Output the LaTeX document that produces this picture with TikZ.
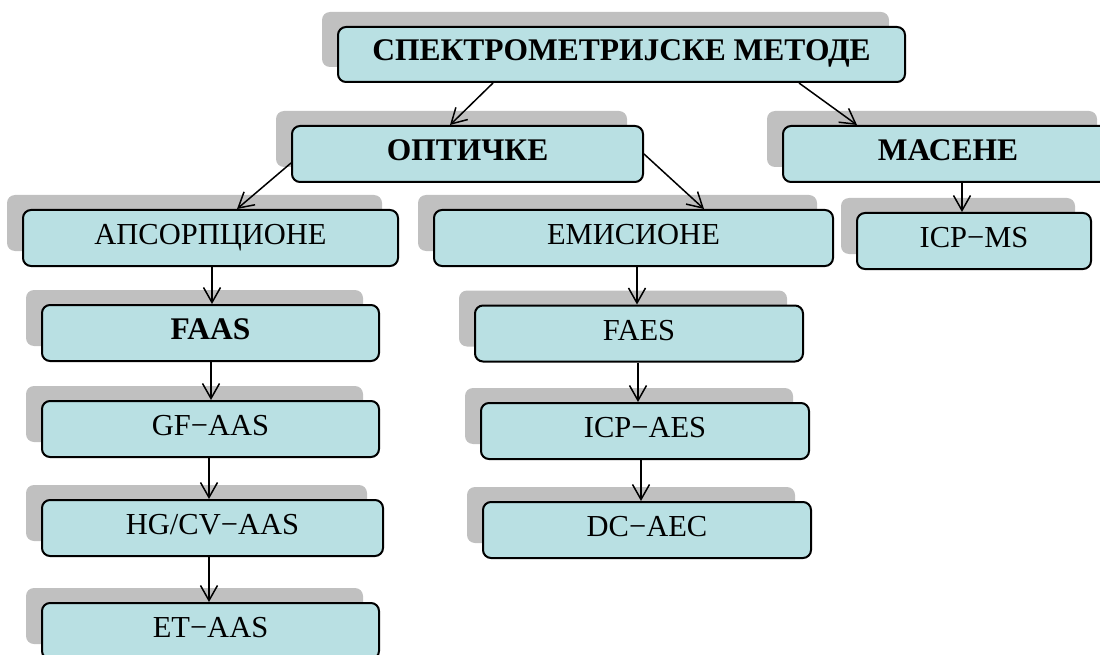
\documentclass[tikz,border=0pt]{standalone}
\usepackage{fontspec}
\setmainfont{Liberation Serif}
\usetikzlibrary{arrows.meta,shadows}
\definecolor{boxfill}{HTML}{B9E0E3}
\definecolor{shadowgray}{HTML}{C0C0C0}
\newcommand{\headtext}[1]{{\fontsize{31.5}{36}\selectfont\bfseries #1}}
\tikzset{
  methodbox/.style={
    draw=black, line width=2pt, rounded corners=8pt, fill=boxfill,
    minimum height=56pt, inner sep=0pt,
    font=\fontsize{30.5}{36}\selectfont, text height=20pt, text depth=7pt,
    drop shadow={shadow xshift=-16pt, shadow yshift=15pt, fill=shadowgray, opacity=1}
  },
  link/.style={line width=1.5pt, -{Straight Barb[length=15pt,width=17pt,line width=1.5pt]}}
}
\begin{document}
\begin{tikzpicture}[x=1pt,y=-1pt]
  \useasboundingbox (0,0) rectangle (1100,655);
  \begin{scope}
  \clip (0,0) rectangle (1100,655);
  % top level
  \node[methodbox, minimum width=567pt, minimum height=55pt] (top) at (621.5,54.5) {\headtext{СПЕКТРОМЕТРИЈСКЕ МЕТОДЕ}};
  % second level
  \node[methodbox, minimum width=351pt] (opt) at (467.5,154) {\headtext{ОПТИЧКЕ}};
  \node[methodbox, minimum width=330pt] (mas) at (948,154) {\headtext{МАСЕНЕ}};
  % third level
  \node[methodbox, minimum width=375pt] (aps) at (210.5,238) {АПСОРПЦИОНЕ};
  \node[methodbox, minimum width=399pt] (emi) at (633.5,238) {ЕМИСИОНЕ};
  \node[methodbox, minimum width=234pt] (icpms) at (974,241) {ICP−MS};
  % absorption techniques
  \node[methodbox, minimum width=337pt] (faas) at (210.5,333) {\headtext{FAAS}};
  \node[methodbox, minimum width=337pt] (gf) at (210.5,429) {GF−AAS};
  \node[methodbox, minimum width=341pt] (hg) at (212.5,528) {HG/CV−AAS};
  \node[methodbox, minimum width=337pt] (et) at (210.5,631) {ET−AAS};
  % emission techniques
  \node[methodbox, minimum width=328pt] (faes) at (639,333.5) {FAES};
  \node[methodbox, minimum width=328pt] (icpaes) at (645,431) {ICP−AES};
  \node[methodbox, minimum width=328pt] (dcaec) at (647,530) {DC−AEC};
  % connectors
  \draw[link] ([xshift=-128.5pt]top.south) -- ([xshift=-17.5pt]opt.north);
  \draw[link] ([xshift=177.5pt]top.south) -- ([xshift=-91pt]mas.north);
  \draw[link] ([yshift=-9pt]opt.west) -- ([xshift=26.5pt]aps.north);
  \draw[link] (opt.east) -- ([xshift=70.5pt]emi.north);
  \draw[link] ([xshift=14pt]mas.south) -- ([xshift=14pt]mas.south |- icpms.north);
  \draw[link] ([xshift=1.5pt]aps.south) -- ([xshift=1.5pt]aps.south |- faas.north);
  \draw[link] ([xshift=0.5pt]faas.south) -- ([xshift=0.5pt]faas.south |- gf.north);
  \draw[link] ([xshift=-1.5pt]gf.south) -- ([xshift=-1.5pt]gf.south |- hg.north);
  \draw[link] ([xshift=-3.5pt]hg.south) -- ([xshift=-3.5pt]hg.south |- et.north);
  \draw[link] ([xshift=3.5pt]emi.south) -- ([xshift=3.5pt]emi.south |- faes.north);
  \draw[link] ([xshift=-1pt]faes.south) -- ([xshift=-1pt]faes.south |- icpaes.north);
  \draw[link] ([xshift=-4pt]icpaes.south) -- ([xshift=-4pt]icpaes.south |- dcaec.north);
  \end{scope}
\end{tikzpicture}
\end{document}
